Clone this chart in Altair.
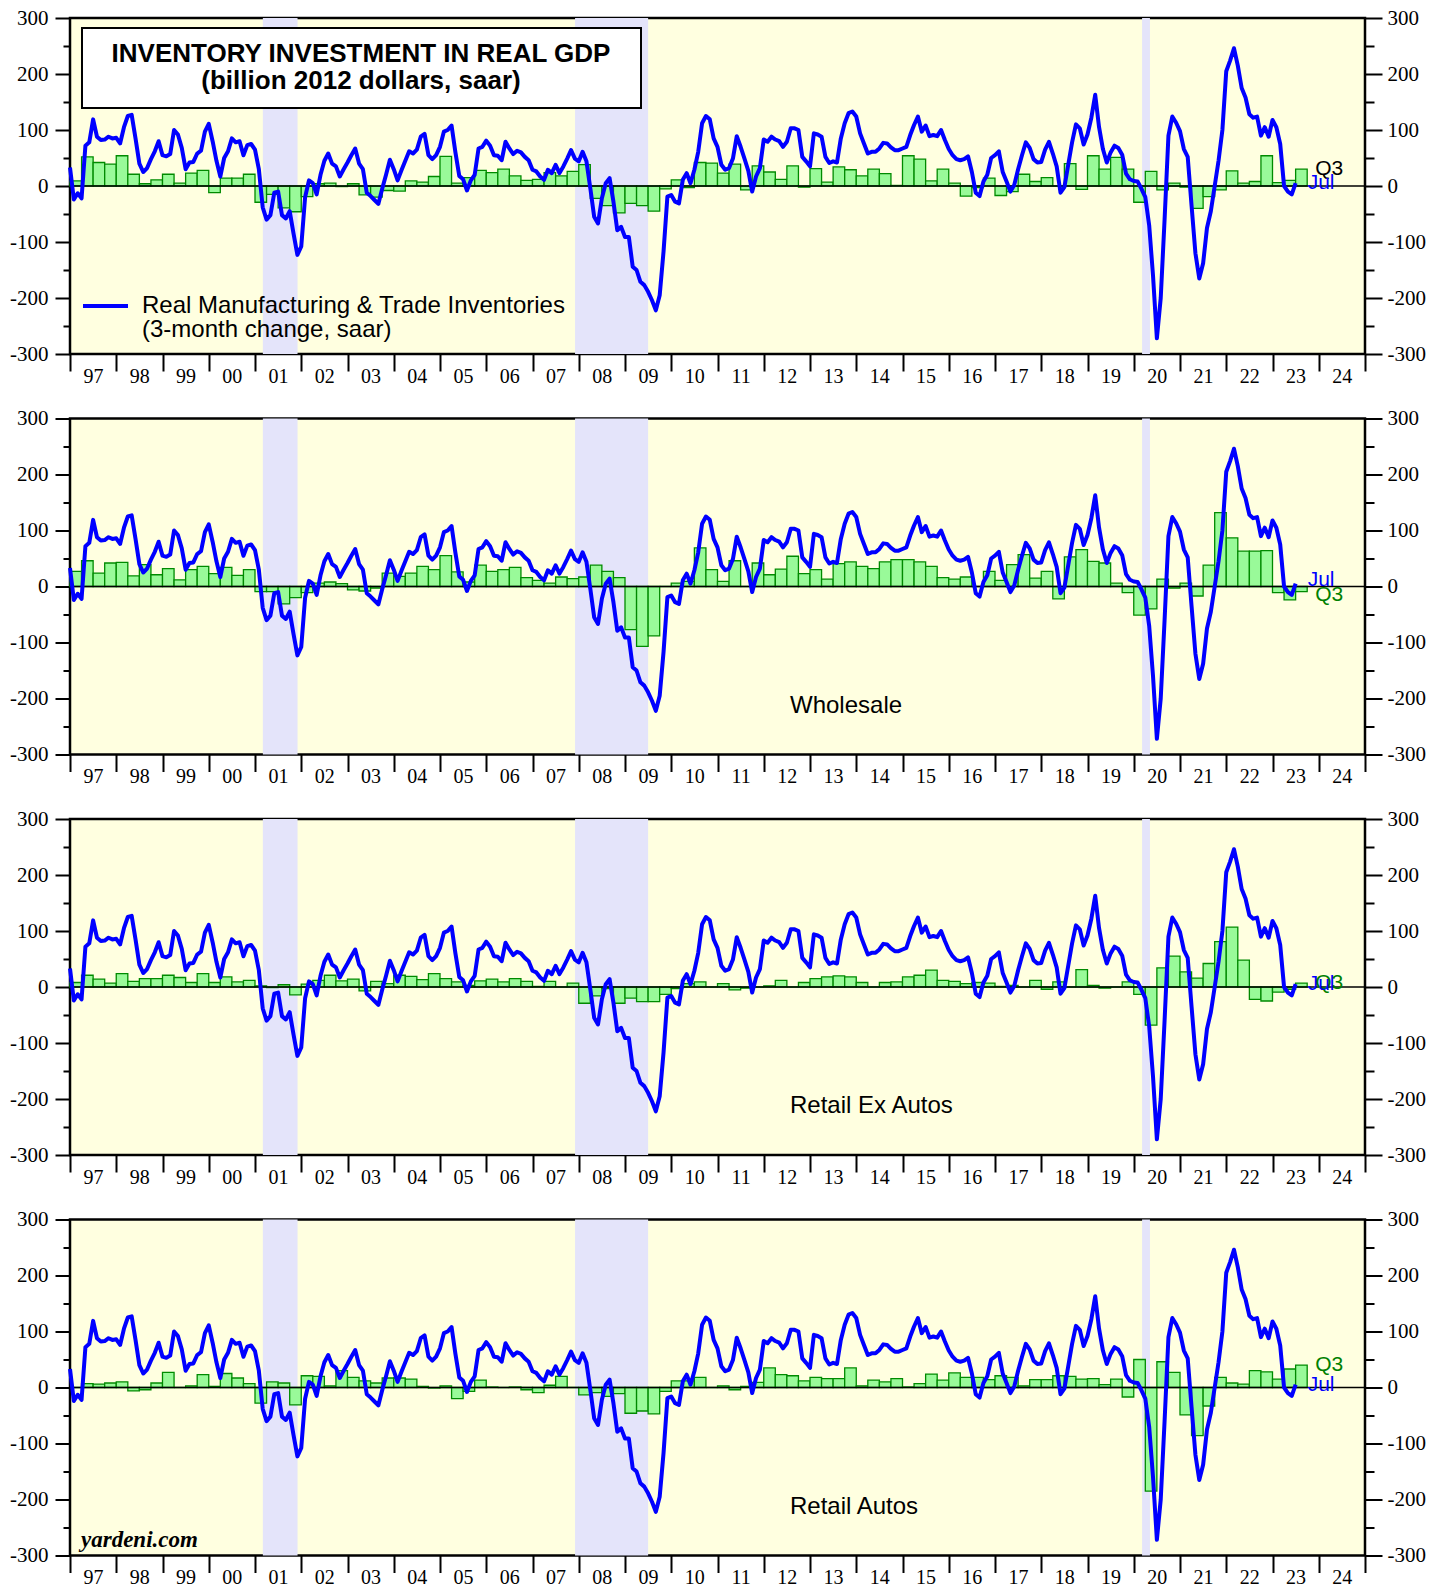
import altair as alt
import pandas as pd

# ------------------------------------------------------------------ data
START_YEAR = 1997

# Real Manufacturing & Trade Inventories, 3-month change, saar (monthly, Jan 1997 .. Jul 2023)
line_vals = [
    33, -24, -13, -22, 72, 78, 119, 88, 82, 83, 88, 85,          # 1997
    86, 76, 105, 125, 127, 85, 40, 25, 32, 48, 62, 80,           # 1998
    55, 53, 57, 100, 92, 68, 30, 42, 43, 58, 63, 97,             # 1999
    111, 80, 45, 17, 50, 62, 85, 78, 80, 55, 73, 75,             # 2000
    65, 30, -38, -60, -52, -12, -10, -52, -58, -45, -85, -123,   # 2001
    -108, -20, 10, 5, -15, 20, 45, 58, 40, 35, 17, 30,           # 2002
    42, 55, 67, 40, 30, -12, -18, -25, -32, -5, 20, 47,          # 2003
    30, 10, 28, 45, 62, 58, 65, 88, 93, 55, 48, 55,              # 2004
    70, 97, 100, 108, 60, 18, 12, -8, 10, 20, 67, 70,            # 2005
    81, 72, 55, 54, 46, 79, 67, 57, 63, 60, 52, 46,              # 2006
    29, 26, 17, 11, 29, 23, 38, 23, 35, 49, 64, 49,              # 2007
    44, 61, 44, -4, -55, -67, -22, 5, 14, -28, -79, -73,         # 2008
    -91, -91, -144, -150, -171, -177, -189, -204, -222, -195, -117, -19,  # 2009
    -16, -28, -31, 11, 23, 5, 29, 61, 112, 125, 119, 85,         # 2010
    70, 38, 29, 32, 49, 89, 70, 49, 27, -10, 17, 32,             # 2011
    83, 79, 88, 83, 80, 70, 79, 103, 103, 100, 52, 44,           # 2012
    35, 94, 92, 88, 52, 41, 44, 42, 85, 112, 130, 133,           # 2013
    124, 94, 76, 58, 61, 61, 67, 77, 76, 69, 64, 64,             # 2014
    67, 70, 91, 109, 124, 97, 108, 89, 91, 89, 100, 82,          # 2015
    66, 55, 48, 46, 48, 53, 25, -12, -18, 8, 20, 50,             # 2016
    55, 62, 25, 8, -10, 2, 30, 55, 78, 68, 48, 42,               # 2017
    43, 65, 79, 58, 35, -12, -2, 38, 78, 110, 103, 74,           # 2018
    92, 122, 163, 105, 66, 42, 60, 72, 68, 56, 22, 12,           # 2019
    9, 8, -5, -20, -70, -160, -272, -200, -60, 90, 124, 113,     # 2020
    98, 66, 52, -35, -120, -165, -138, -75, -45, 0, 45, 100,     # 2021
    205, 224, 246, 215, 175, 158, 128, 122, 124, 90, 105, 88,    # 2022
    118, 105, 75, 0, -10, -15, 5,                                # 2023
]

# Quarterly inventory investment in real GDP (Q1 1997 .. Q3 2023)
bars_panel1 = [
    9, 52, 42, 39,  54, 21, 4, 11,  21, 5, 23, 28,  -12, 14, 14, 21,
    -29, -15, -39, -46,  -19, 4, 5, -1,  4, -16, -20, -8,  -9, 9, 7, 17,
    53, 5, 15, 28,  24, 30, 18, 10,  12, 24, 18, 26,  38, -22, -35, -48,
    -31, -35, -45, -5,  11, -3, 42, 41,  23, 39, -7, 36,  25, 12, 36, -2,
    31, 7, 34, 29,  18, 30, 22, 1,  54, 48, 9, 30,  5, -18, -3, 14,
    -17, -10, 21, 8,  15, 0, 40, -6,  54, 30, 51, 30,  -29, 26, -7, 5,
    -2, -40, -19, -7,  27, 5, 8, 54,  6, 10, 30,
]
bars_wholesale = [
    27, 46, 24, 42,  43, 19, 39, 21,  32, 12, 30, 36,  23, 34, 20, 30,
    -9, -9, -31, -20,  -11, 6, 8, 5,  -6, -8, -3, 24,  18, 24, 36, 30,
    55, 26, 8, 38,  27, 30, 34, 16,  11, 6, 17, 14,  17, 38, 27, 16,
    -77, -107, -88, 0,  6, 9, 69, 30,  9, 46, 0, 42,  21, 31, 54, 23,
    30, 13, 41, 44,  36, 32, 44, 48,  48, 44, 36, 16,  13, 17, 0, 27,
    11, 39, 57, 15,  27, -22, 53, 66,  45, 42, 6, -11,  -51, -40, 13, -3,
    6, -17, 38, 132,  87, 63, 63, 64,  -11, -24, -9,
]
bars_retail_ex_autos = [
    8, 21, 14, 7,  24, 10, 15, 15,  21, 17, 8, 24,  8, 18, 9, 12,
    2, -1, 4, -14,  5, 12, 21, 11,  14, -7, 10, 6,  21, 19, 13, 24,
    15, 9, 3, 11,  14, 9, 15, 10,  1, 10, 0, 7,  -29, -16, -3, -29,
    -20, -26, -26, -13,  -3, 6, 9, 0,  6, -5, -2, 0,  2, 12, 0, 8,
    15, 18, 20, 18,  8, 0, 8, 9,  18, 21, 30, 12,  10, 6, 8, 7,
    1, 3, 0, 12,  -4, 9, 0, 31,  3, -2, 0, 9,  -13, -68, 34, 55,
    27, 16, 42, 81,  107, 48, -22, -25,  -9, -4, 7,
]
bars_retail_autos = [
    0, 7, 6, 8,  10, -6, -4, 8,  27, 0, 3, 23,  2, 25, 17, 7,
    -28, 10, 8, -31,  21, 20, 3, 30,  18, 12, 8, 17,  17, 15, 2, -1,
    3, -20, -7, 13,  1, 0, 1, -4,  -9, 4, 20, 0,  -13, -9, -16, -11,
    -46, -42, -47, -7,  12, 12, 18, 0,  3, -4, 2, 9,  35, 23, 21, 12,
    18, 16, 16, 35,  3, 13, 10, 16,  1, 7, 24, 13,  26, 18, 18, 14,
    21, 18, 3, 14,  14, 21, 20, 15,  16, 5, 15, -17,  50, -185, 46, 27,
    -49, -86, -33, 18,  8, 6, 30, 28,  15, 33, 40,
]

panel_names = ["", "Wholesale", "Retail Ex Autos", "Retail Autos"]
q3_colors = ["black", "#008000", "#008000", "#008000"]
jul_dy = [0, -4, 0, 0]
q3_dy = [0, 3, 0, 0]

recession_start = [2001.17, 2007.92, 2020.18]
recession_end = [2001.92, 2009.50, 2020.35]

year_ticks = list(range(1997, 2026))
y_ticks = list(range(-300, 301, 50))

title_lines = ["INVENTORY INVESTMENT IN REAL GDP", "(billion 2012 dollars, saar)"]
legend_lines = ["Real Manufacturing & Trade Inventories", "(3-month change, saar)"]

# ------------------------------------------------------------------ style
W, H = 1295, 336
SANS = "Liberation Sans"
SERIF = "Liberation Serif"
BLUE = "#0000FF"
BAR_FILL = "#99FA99"
BAR_STROKE = "#008A00"
REC = "#E4E4FA"
BG = "#FFFFE0"

XS = alt.Scale(domain=[1997, 2025], nice=False, zero=False)
YS = alt.Scale(domain=[-300, 300], nice=False, zero=False)

xaxis = alt.Axis(
    values=year_ticks,
    labelExpr="datum.value >= 2025 ? '' : slice('0' + toString(datum.value % 100), -2)",
    tickSize=17, tickWidth=2, tickColor="black",
    labelOffset=23, labelPadding=-5, labelFlush=False, labelOverlap=False,
    labelFont=SERIF, labelFontSize=20, labelColor="black",
    domain=False, grid=False, title=None,
)
left_axis = alt.Axis(
    orient="left", values=y_ticks,
    labelExpr="datum.value % 100 == 0 ? toString(datum.value) : ''",
    tickSize={"condition": {"test": "datum.value % 100 == 0", "value": 15}, "value": 7},
    tickWidth=2, tickColor="black", labelPadding=7,
    labelFont=SERIF, labelFontSize=21, labelColor="black",
    labelFlush=False, labelOverlap=False, domain=False, grid=False, title=None,
)
right_axis = alt.Axis(
    orient="right", values=y_ticks,
    labelExpr="datum.value % 100 == 0 ? toString(datum.value) : ''",
    tickSize={"condition": {"test": "datum.value % 100 == 0", "value": 17}, "value": 9},
    tickWidth=2, tickColor="black", labelPadding=5,
    labelFont=SERIF, labelFontSize=21, labelColor="black",
    labelFlush=False, labelOverlap=False, domain=False, grid=False, title=None,
)

# ------------------------------------------------------------------ frames
line_df = pd.DataFrame({
    "t": [START_YEAR + i / 12 for i in range(len(line_vals))],
    "v": line_vals,
})
rec_df = pd.DataFrame({"s": recession_start, "e": recession_end})
one = pd.DataFrame({"a": [0]})


def bar_frame(vals):
    return pd.DataFrame({
        "t0": [START_YEAR + i / 4 for i in range(len(vals))],
        "t1": [START_YEAR + (i + 1) / 4 for i in range(len(vals))],
        "v": vals,
        "z": [0] * len(vals),
    })


def panel(idx, vals):
    bdf = bar_frame(vals)
    layers = []
    layers.append(
        alt.Chart(rec_df).mark_rect(color=REC).encode(
            x=alt.X("s:Q", scale=XS, axis=xaxis), x2="e:Q")
    )
    layers.append(
        alt.Chart(bdf).mark_rect(fill=BAR_FILL, stroke=BAR_STROKE, strokeWidth=1.3).encode(
            x=alt.X("t0:Q", scale=XS, axis=xaxis), x2="t1:Q",
            y=alt.Y("v:Q", scale=YS, axis=left_axis), y2="z:Q")
    )
    layers.append(
        alt.Chart(pd.DataFrame({"z": [0]})).mark_rule(color="black", strokeWidth=1.5).encode(
            y=alt.Y("z:Q", scale=YS, axis=None))
    )
    layers.append(
        alt.Chart(line_df).mark_line(color=BLUE, strokeWidth=4, strokeJoin="round").encode(
            x=alt.X("t:Q", scale=XS, axis=xaxis),
            y=alt.Y("v:Q", scale=YS, axis=right_axis))
    )
    layers.append(
        alt.Chart(bdf.iloc[[-1]]).mark_text(
            text="Q3", align="left", baseline="middle", dx=8, dy=q3_dy[idx],
            font=SANS, fontSize=21, color=q3_colors[idx]).encode(
            x=alt.X("t1:Q", scale=XS, axis=xaxis),
            y=alt.Y("v:Q", scale=YS, axis=None))
    )
    layers.append(
        alt.Chart(line_df.iloc[[-1]]).mark_text(
            text="Jul", align="left", baseline="middle", dx=12, dy=jul_dy[idx],
            font=SANS, fontSize=21, color=BLUE).encode(
            x=alt.X("t:Q", scale=XS, axis=xaxis),
            y=alt.Y("v:Q", scale=YS, axis=None))
    )
    if idx == 0:
        layers.append(
            alt.Chart(one).mark_rect(fill="white", stroke="black", strokeWidth=2).encode(
                x=alt.value(12), x2=alt.value(571), y=alt.value(10), y2=alt.value(90))
        )
        layers.append(
            alt.Chart(one).mark_text(text=title_lines[0], font=SANS, fontSize=26,
                                     fontWeight="bold", baseline="middle").encode(
                x=alt.value(291), y=alt.value(36))
        )
        layers.append(
            alt.Chart(one).mark_text(text=title_lines[1], font=SANS, fontSize=26,
                                     fontWeight="bold", baseline="middle").encode(
                x=alt.value(291), y=alt.value(63))
        )
        layers.append(
            alt.Chart(one).mark_rule(color=BLUE, strokeWidth=4).encode(
                x=alt.value(13), x2=alt.value(58), y=alt.value(288))
        )
        layers.append(
            alt.Chart(one).mark_text(text=legend_lines[0], font=SANS, fontSize=24,
                                     align="left", baseline="middle").encode(
                x=alt.value(72), y=alt.value(288))
        )
        layers.append(
            alt.Chart(one).mark_text(text=legend_lines[1], font=SANS, fontSize=24,
                                     align="left", baseline="middle").encode(
                x=alt.value(72), y=alt.value(312))
        )
    else:
        layers.append(
            alt.Chart(one).mark_text(text=panel_names[idx], font=SANS, fontSize=24,
                                     align="left", baseline="middle").encode(
                x=alt.value(720), y=alt.value(287))
        )
    if idx == 3:
        layers.append(
            alt.Chart(one).mark_text(text="yardeni.com", font=SERIF, fontSize=23,
                                     fontWeight="bold", fontStyle="italic",
                                     align="left", baseline="middle").encode(
                x=alt.value(11), y=alt.value(320))
        )
    return alt.layer(*layers).resolve_scale(y="independent").properties(width=W, height=H)


panels = [bars_panel1, bars_wholesale, bars_retail_ex_autos, bars_retail_autos]
chart = alt.vconcat(*[panel(i, v) for i, v in enumerate(panels)], spacing=17.5).properties(
    padding={"left": 0, "top": -3, "right": 5, "bottom": 5},
    background="white",
).configure_view(fill=BG, stroke="black", strokeWidth=2.5)

chart.save("out.html", embed_options={"renderer": "svg", "actions": False})
